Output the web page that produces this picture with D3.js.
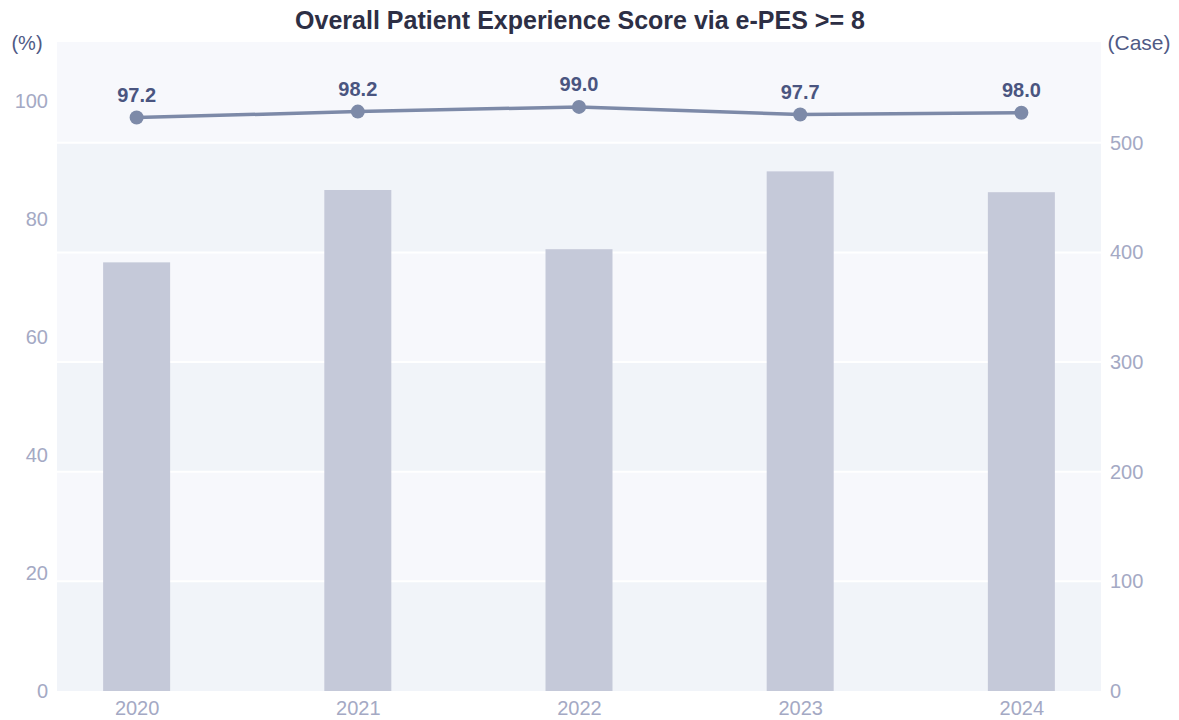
<!DOCTYPE html>
<html><head><meta charset="utf-8">
<script src="https://cdn.jsdelivr.net/npm/d3@7"></script>
<style>body{margin:0;background:#fff;} svg{display:block;font-family:"Liberation Sans",Arial,sans-serif;}</style>
</head><body><svg id="c" width="1179" height="720"></svg>
<script>
const years = ["2020","2021","2022","2023","2024"];
const scores = [97.2, 98.2, 99.0, 97.7, 98.0];
const cases = [391, 457, 403, 474, 455];
const leftTicks = [0,20,40,60,80,100];
const rightTicks = [0,100,200,300,400,500];

const svg = d3.select("#c");
const m = {l:57, r:1101, t:42, b:691};
const x = d3.scalePoint().domain(years).range([m.l, m.r]).padding(0.36);
const yL = d3.scaleLinear().domain([0,110]).range([m.b, m.t]);
const yR = d3.scaleLinear().domain([0,592]).range([m.b, m.t]);

// bands
const bandEdges = [0,100,200,300,400,500,592];
for (let i=0;i<bandEdges.length-1;i++){
  svg.append("rect").attr("x",m.l).attr("width",m.r-m.l)
    .attr("y",yR(bandEdges[i+1])).attr("height",yR(bandEdges[i])-yR(bandEdges[i+1]))
    .attr("fill", i%2===0 ? "#f1f4f9" : "#f7f8fc");
}
// gridlines
svg.append("g").selectAll("line").data(rightTicks.slice(1)).join("line")
  .attr("x1",m.l).attr("x2",m.r).attr("y1",d=>yR(d)).attr("y2",d=>yR(d))
  .attr("stroke","#ffffff").attr("stroke-width",2);

// bars
const bw = 67;
svg.append("g").selectAll("rect").data(years).join("rect")
  .attr("x",d=>x(d)-bw/2).attr("width",bw)
  .attr("y",(d,i)=>yR(cases[i])).attr("height",(d,i)=>yR(0)-yR(cases[i]))
  .attr("fill","#c5c9d9");

// line
const line = d3.line().x((d,i)=>x(years[i])).y(d=>yL(d));
svg.append("path").datum(scores).attr("d",line).attr("fill","none")
  .attr("stroke","#7d8aa8").attr("stroke-width",3.5);
svg.append("g").selectAll("circle").data(scores).join("circle")
  .attr("cx",(d,i)=>x(years[i])).attr("cy",d=>yL(d)).attr("r",7).attr("fill","#7d8aa8");
svg.append("g").selectAll("text").data(scores).join("text")
  .attr("x",(d,i)=>x(years[i])).attr("y",d=>yL(d)-16)
  .attr("text-anchor","middle").attr("font-size",20).attr("font-weight","bold")
  .attr("fill","#4a5580").text(d=>d.toFixed(1));

// axes
const axL = d3.axisLeft(yL).tickValues(leftTicks).tickSize(0).tickPadding(9);
const gL = svg.append("g").attr("transform",`translate(${m.l},0)`).call(axL);
const axR = d3.axisRight(yR).tickValues(rightTicks).tickSize(0).tickPadding(9);
const gR = svg.append("g").attr("transform",`translate(${m.r},0)`).call(axR);
const axB = d3.axisBottom(x).tickSize(0).tickPadding(10);
const gB = svg.append("g").attr("transform",`translate(0,${m.b})`).call(axB);
[gL,gR,gB].forEach(g=>{
  g.select(".domain").remove();
  g.selectAll("text").attr("font-size",20).attr("fill","#a4a9c4")
    .attr("font-family","'Liberation Sans',Arial,sans-serif");
});

// axis titles
svg.append("text").attr("x",27).attr("y",50).attr("text-anchor","middle")
  .attr("font-size",20).attr("fill","#4f5a85").text("(%)");
svg.append("text").attr("x",1139).attr("y",50).attr("text-anchor","middle")
  .attr("font-size",21).attr("fill","#4f5a85").text("(Case)");

// title
svg.append("text").attr("x",580).attr("y",29).attr("text-anchor","middle")
  .attr("font-size",25).attr("font-weight","bold").attr("fill","#2d2f45")
  .text("Overall Patient Experience Score via e-PES >= 8");
</script></body></html>
